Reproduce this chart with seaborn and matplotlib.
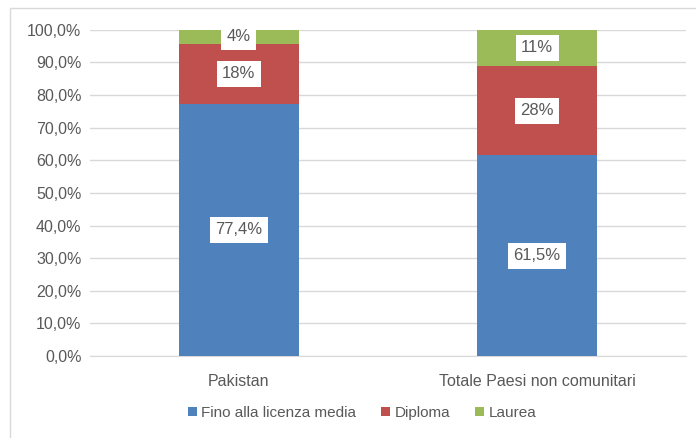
import pandas as pd
import matplotlib.pyplot as plt
import seaborn as sns
from matplotlib.patches import Patch, Rectangle

# dati (percentuali)
paesi = ['Pakistan', 'Totale Paesi non comunitari']
fino_media = [77.4, 61.5]
diploma = [18.3, 27.5]
laurea = [4.3, 11.0]
etichette_media = ['77,4%', '61,5%']
etichette_diploma = ['18%', '28%']
etichette_laurea = ['4%', '11%']

serie = ['Fino alla licenza media', 'Diploma', 'Laurea']
colori = ['#4F81BD', '#C0504D', '#9BBB59']
grigio = '#595959'

df = pd.DataFrame({'Paese': paesi, 'media': fino_media,
                   'diploma': diploma, 'laurea': laurea})
df['cum_media'] = df['media']
df['cum_diploma'] = df['media'] + df['diploma']
df['cum_laurea'] = df['cum_diploma'] + df['laurea']

sns.set_style('white')
plt.rcParams['font.family'] = ['Liberation Sans', 'DejaVu Sans']

fig = plt.figure(figsize=(6.96, 4.38), dpi=100)
ax = fig.add_axes([0.129, 0.187, 0.857, 0.745])

# barre impilate: si disegnano i totali cumulati dal più alto al più basso
for col, c in zip(['cum_laurea', 'cum_diploma', 'cum_media'], colori[::-1]):
    sns.barplot(data=df, x='Paese', y=col, color=c, width=0.4,
                saturation=1, ax=ax, zorder=3, linewidth=0)

ax.set_ylim(0, 100)
ax.set_xlim(-0.5, 1.5)
ax.set_yticks(range(0, 101, 10))
ax.set_yticklabels([f'{v},0%' for v in range(0, 101, 10)])
ax.set_xlabel('')
ax.set_ylabel('')
ax.grid(axis='y', color='#d9d9d9', linewidth=1, zorder=0)
ax.set_axisbelow(True)
for s in ['top', 'right', 'left']:
    ax.spines[s].set_visible(False)
ax.spines['bottom'].set_color('#d9d9d9')
ax.tick_params(axis='both', length=0, colors=grigio, labelsize=11.5)
ax.tick_params(axis='x', pad=13)
ax.tick_params(axis='y', pad=6)

box = dict(facecolor='white', edgecolor='none', pad=4)
for i in range(len(paesi)):
    ax.text(i, fino_media[i] / 2, etichette_media[i], ha='center', va='center',
            fontsize=12, color=grigio, bbox=box, zorder=5)
    ax.text(i, fino_media[i] + diploma[i] / 2, etichette_diploma[i], ha='center',
            va='center', fontsize=12, color=grigio, bbox=box, zorder=5)
    ax.text(i, df['cum_diploma'][i] + laurea[i] / 2, etichette_laurea[i],
            ha='center', va='center', fontsize=12, color=grigio, bbox=box, zorder=5)

handles = [Patch(facecolor=c, edgecolor='none') for c in colori]
fig.legend(handles, serie, loc='center', bbox_to_anchor=(0.52, 0.057), ncol=3,
           frameon=False, fontsize=11, handlelength=0.6, handleheight=0.6,
           handletextpad=0.3, columnspacing=1.6, labelcolor=grigio)

# cornice grigia del grafico
fig.patches.append(Rectangle((10 / 696, -0.05), 1.2, 1 - 8 / 438 + 0.05,
                             transform=fig.transFigure, fill=False,
                             edgecolor='#d9d9d9', linewidth=1))

fig.savefig('out.png', dpi=100)
